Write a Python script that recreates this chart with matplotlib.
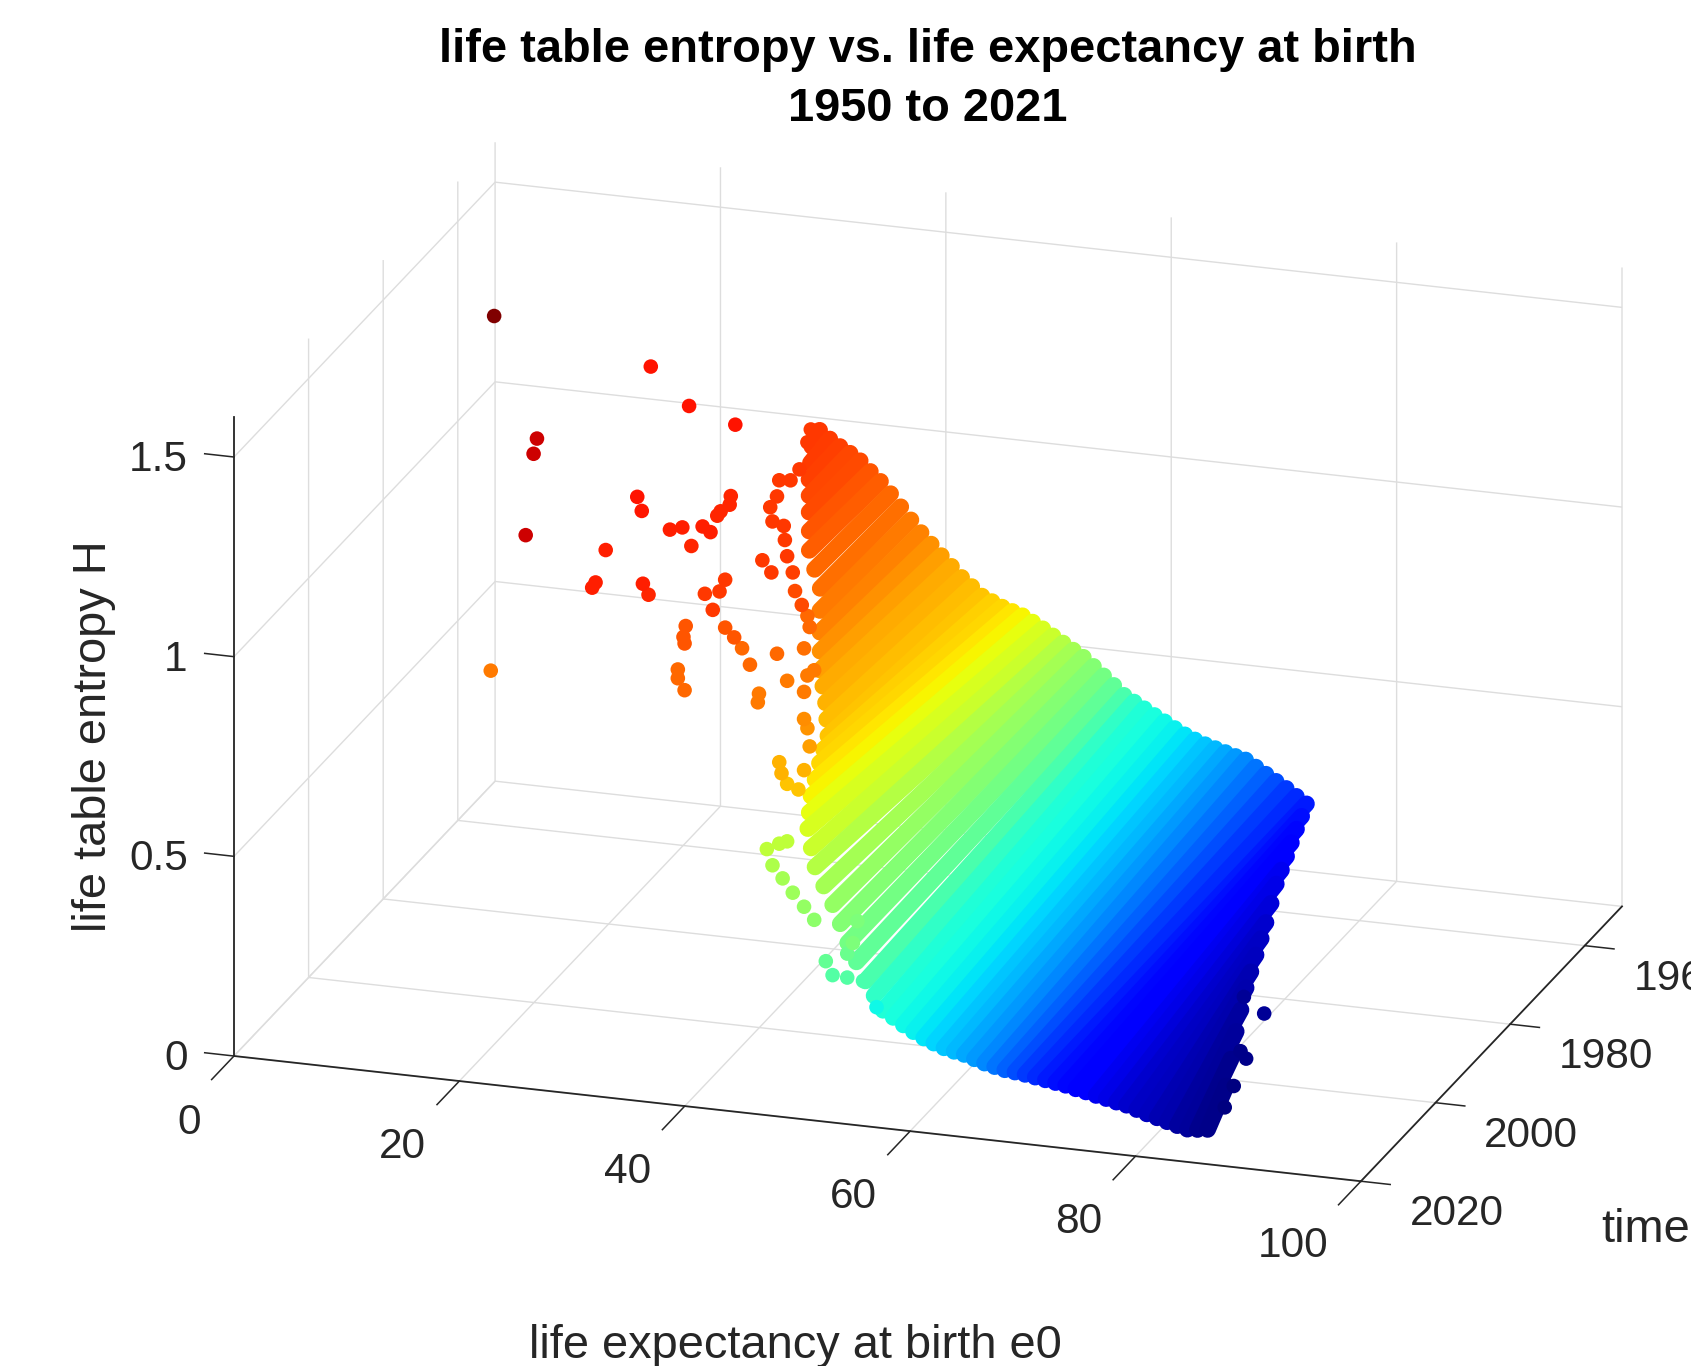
import numpy as np
import matplotlib
matplotlib.use("Agg")
import matplotlib.pyplot as plt
from mpl_toolkits.mplot3d import proj3d

plt.rcParams["font.family"] = ["Liberation Sans", "DejaVu Sans"]

W, H_PX = 1691, 1366
TEXT = "#262626"

xticks = [0, 20, 40, 60, 80, 100]
xtick_pos = [1.47, 20.45, 40.45, 60.45, 80.45, 99.5]
yticks = [1960, 1980, 2000, 2020]
zticks = [0, 0.5, 1, 1.5]
zlabels = ["0", "0.5", "1", "1.5"]

# dense cloud, one strip of values per life expectancy level
row_e0 = [28.8, 29.7, 30.6, 31.5, 32.4, 33.3, 34.2, 35.1, 36.0, 36.9, 37.8, 38.7, 39.6, 40.5, 41.4, 42.3,
          43.2, 44.1, 45.0, 45.9, 46.8, 47.7, 48.6, 49.5, 50.4, 51.3, 52.2, 53.1, 54.0, 54.9, 55.8, 56.7,
          57.6, 58.5, 59.4, 60.3, 61.2, 62.1, 63.0, 63.9, 64.8, 65.7, 66.6, 67.5, 68.4, 69.3, 70.2, 71.1,
          72.0, 72.9, 73.8, 74.7, 75.6, 76.5, 77.4, 78.3, 79.2, 80.1, 81.0, 81.9, 82.8, 83.7, 84.6, 85.5, 86.4]
row_year_old = [1950] * 49 + [1954, 1958.1, 1962.2, 1966.2, 1970.3, 1974.4, 1978.5, 1982.6, 1986.6, 1990.7,
                              1994.8, 1998.8, 2002.9, 2006.9, 2011, 2015]
row_H_old = [.969, .95, .934, .92, .904, .88, .858, .83, .80, .77, .741, .715, .689, .665, .64, .62,
             .599, .588, .577, .569, .561, .548, .534, .519, .504, .489, .474, .454, .433, .412, .39, .376,
             .362, .348, .335, .321, .308, .298, .289, .282, .275, .268, .262, .247, .232, .217, .202, .185,
             .169, .18, .191, .20, .208, .217, .225, .22, .215, .217, .219, .22, .222, .21, .198, .172, .147]
row_year_new = [1952.1, 1955.2, 1958.3, 1961, 1963.7, 1966.4, 1969.1, 1970.4, 1971.6, 1974.4, 1977.1, 1979.8,
                1982.5, 1984.5, 1986.5, 1988.9, 1991.3, 1995.2, 1999, 2002.9, 2006.7, 2009.9, 2013, 2014.8,
                2016.5, 2016.9, 2017.2, 2017.9, 2018.6, 2019, 2019.3, 2019.7] + [2020] * 33
row_H_new = [.949, .941, .933, .922, .91, .892, .873, .841, .808, .783, .758, .74, .722, .704, .685, .67,
             .655, .662, .668, .668, .667, .66, .653, .625, .597, .556, .515, .477, .439, .398, .356, .326,
             .295, .28, .264, .25, .237, .227, .218, .212, .207, .199, .191, .185, .18, .177, .174, .17,
             .166, .162, .158, .152, .147, .141, .136, .13, .125, .117, .109, .102, .095, .088, .082, .084, .087]
row_shade = [.85, .845, .84, .835, .83, .82, .81, .80, .79, .78, .77, .755, .74, .73, .72, .71,
             .70, .69, .68, .665, .65, .63, .61, .595, .57, .55, .53, .51, .49, .465, .44, .41,
             .39, .38, .37, .36, .35, .335, .32, .305, .29, .275, .26, .24, .22, .20, .18, .165,
             .15, .14, .13, .12, .11, .10, .09, .08, .07, .06, .055, .045, .04, .03, .025, .015, .01]

# scattered countries outside the dense cloud
loose_e0 = [11.5, 25.4, 28.8, 32.9, 15.3, 15.0, 24.2, 24.6, 14.3, 21.4, 20.5, 20.2, 24.7, 25.2,
            27.1, 28.2, 29.0, 30.0, 30.7, 31.3, 31.6, 32.5, 32.4, 30.2, 32.0, 31.5, 30.9,
            28.5, 28.3, 28.4, 27.8, 27.8, 28.4, 32.0, 32.8, 33.5, 34.2, 35.0, 34.9, 36.6, 37.5, 39.0,
            11.2, 35.3, 36.1, 38.2, 38.8,
            39.6, 39.3, 38.6, 37.8, 36.8, 36.6, 36.0, 36.2, 37.2, 37.3, 37.5, 38.0, 39.5,
            39.9, 39.0, 36.8, 37.0, 37.5, 38.5, 39.3,
            35.7, 36.8, 37.5, 36.2, 37.1, 38.0, 39.0, 39.9,
            39.3, 39.0, 39.3, 39.5, 39.0,
            50.2, 50.8, 52.1, 53.5, 52.6, 53.0, 52.1, 54.7,
            89.1, 87.3, 87.0, 87.5, 86.4, 85.6]
loose_year = [1985] * 80 + [2013] * 14
loose_H = [1.545, 1.462, 1.374, 1.34, 1.25, 1.211, 1.132, 1.098, 1.005, .99, .906, .892, .916, .89,
           1.059, 1.068, 1.024, 1.076, 1.064, 1.107, 1.119, 1.16, 1.138, .908, .949, .918, .87,
           .822, .794, .778, .711, .689, .661, .829, .807, .782, .743, .673, .651, .778, .713, .69,
           .656, 1.008, .98, .94, .907,
           1.349, 1.316, 1.246, 1.216, 1.213, 1.172, 1.143, 1.108, 1.10, 1.065, 1.025, .986, .854,
           .747, .622, .507, .48, .455, .444, .60,
           .286, .303, .311, .247, .217, .184, .152, .122,
           .881, .799, .732, .555, .494,
           .326, .293, .291, .287, .379, .435, .351, .225,
           .317, .353, .216, .199, .127, .071]
loose_shade = [1.0, .89, .89, .89, .93, .93, .89, .885, .93, .875, .875, .875, .875, .87,
               .875, .875, .87, .875, .875, .87, .87, .87, .87, .85, .85, .85, .85,
               .82, .82, .82, .80, .80, .80, .82, .82, .80, .80, .78, .78, .80, .78, .78,
               .78, .85, .85, .83, .83,
               .85, .85, .85, .85, .85, .85, .85, .85, .85, .85, .85, .84, .80,
               .78, .76, .72, .72, .70, .70, .75,
               .58, .58, .58, .56, .55, .54, .53, .52,
               .80, .79, .78, .74, .72,
               .47, .45, .45, .44, .50, .50, .48, .37,
               .02, .02, .01, .01, .0, .0]

fig = plt.figure(figsize=(W / 100, H_PX / 100), dpi=100)
ax = fig.add_axes([0, 0, 1, 1], projection="3d", proj_type="ortho", computed_zorder=False)
ax.set_box_aspect((1185, 845, 680))
ax.view_init(elev=20, azim=-72)
ax.set_xlim(0, 100, view_margin=0)
ax.set_ylim(2020, 1950, view_margin=0)
ax.set_zlim(0, 1.6, view_margin=0)

jet = plt.get_cmap("jet")
for i in range(len(row_e0)):
    ax.plot([row_e0[i], row_e0[i]], [row_year_old[i], row_year_new[i]], [row_H_old[i], row_H_new[i]],
            color=jet(row_shade[i]), lw=12, solid_capstyle="round", zorder=3)

ax.scatter(loose_e0, loose_year, loose_H, c=loose_shade, cmap="jet", vmin=0, vmax=1,
           s=110, linewidths=0, depthshade=False, zorder=4)

# axes look
ax.set_xticks(xticks)
ax.set_yticks(yticks)
ax.set_zticks(zticks)
ax.set_xticklabels([])
ax.set_yticklabels([])
ax.set_zticklabels([])
for axis in [ax.xaxis, ax.yaxis, ax.zaxis]:
    axis.set_pane_color((1, 1, 1, 0))
    axis.pane.set_edgecolor("none")
    axis.line.set_color(TEXT)
    axis.line.set_linewidth(1.3)
    axis._axinfo["grid"].update(color="#dddddd", linewidth=1.0)
    axis._axinfo["tick"].update(inward_factor=0.0, outward_factor=0.0)
ax.zaxis.line.set_color((1, 1, 1, 0))

# the z axis sits on the front left edge and ticks point outwards, so these are drawn here
ax.plot([0, 0], [2020, 2020], [0, 1.6], color=TEXT, lw=1.3, zorder=2.5)
for v in xticks:
    ax.plot([v, v], [2020, 2026], [0, 0], color=TEXT, lw=1.1, zorder=2.5)
for v in yticks:
    ax.plot([100, 102.6], [v, v], [0, 0], color=TEXT, lw=1.1, zorder=2.5)
for v in zticks:
    ax.plot([0, -2.6], [2020, 2020], [v, v], color=TEXT, lw=1.1, zorder=2.5)

for v, p in zip(xticks, xtick_pos):
    ax.text(p, 2036.6, 0, str(v), fontsize=30.5, color=TEXT, ha="center", va="center", clip_on=False)
for v in yticks:
    ax.text(108.5, v, -0.056, str(v), fontsize=30.5, color=TEXT, ha="center", va="center", clip_on=False)
for v, s in zip(zticks, zlabels):
    ax.text(-4.1, 2020, v - 0.02, s, fontsize=30.5, color=TEXT, ha="right", va="center", clip_on=False)

fig.text(860 / 1568, 1 - 73.5 / 1267, "life table entropy vs. life expectancy at birth\n1950 to 2021",
         fontsize=33.8, fontweight="bold", color="black", ha="center", va="center", linespacing=1.45)
fig.text(738 / 1568, 1 - 1248 / 1267, "life expectancy at birth e0", fontsize=33.8, color=TEXT, ha="center", va="center")
fig.text(87 / 1568, 1 - 683 / 1267, "life table entropy H", fontsize=33.8, color=TEXT, rotation=90, ha="center", va="center")
fig.text(1485 / 1568, 1 - 1141 / 1267, "time", fontsize=33.8, color=TEXT, ha="left", va="center")


def corner_px(x, y, z):
    px, py, _ = proj3d.proj_transform(x, y, z, ax.get_proj())
    return ax.transData.transform((px, py))


# fit the box on the page: front left corner and back right corner
target_a = np.array([234.0, H_PX - 1056.0])
target_b = np.array([1622.0, H_PX - 907.4])
size, left, bottom = 1400.0, 100.0, 0.0
for _ in range(4):
    ax.set_position([left / W, bottom / H_PX, size / W, size / H_PX])
    ax.apply_aspect()
    a = corner_px(0, 2020, 0)
    b = corner_px(100, 1950, 0)
    size *= (target_b[0] - target_a[0]) / (b[0] - a[0])
    ax.set_position([left / W, bottom / H_PX, size / W, size / H_PX])
    ax.apply_aspect()
    a = corner_px(0, 2020, 0)
    left += target_a[0] - a[0]
    bottom += target_a[1] - a[1]
ax.set_position([left / W, bottom / H_PX, size / W, size / H_PX])

fig.savefig("out.png", dpi=100)
